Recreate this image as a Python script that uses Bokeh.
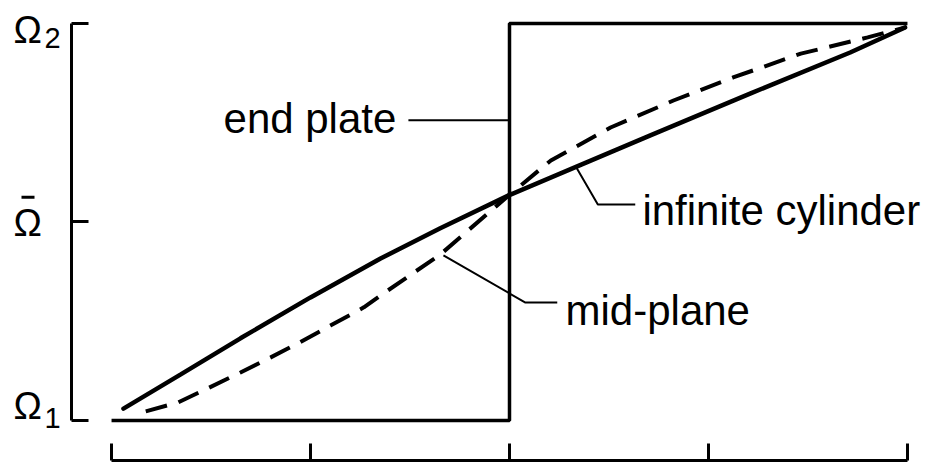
from bokeh.plotting import figure
from bokeh.layouts import row
from bokeh.models import Range1d, FixedTicker
from bokeh.core.properties import value
from bokeh.embed import file_html
from bokeh.resources import INLINE

# Normalised radial position (0 = inner cylinder, 1 = outer cylinder)
# and normalised angular velocity (0 = Omega_1, 1 = Omega_2).
end_plate_x = [0.0, 0.5, 0.5, 1.0]
end_plate_y = [0.0, 0.0, 1.0, 1.0]

cylinder_x = [0.015, 0.087, 0.162, 0.250, 0.338, 0.413, 0.499, 0.585, 0.677, 0.803, 0.928, 0.997]
cylinder_y = [0.030, 0.116, 0.207, 0.310, 0.408, 0.484, 0.567, 0.640, 0.718, 0.824, 0.927, 0.990]

midplane_x = [0.043, 0.083, 0.121, 0.162, 0.200, 0.237, 0.275, 0.317, 0.338, 0.413, 0.499,
              0.552, 0.627, 0.706, 0.781, 0.866, 0.950, 0.997]
midplane_y = [0.023, 0.045, 0.081, 0.121, 0.159, 0.197, 0.239, 0.285, 0.315, 0.418, 0.567,
              0.655, 0.738, 0.806, 0.864, 0.924, 0.965, 0.990]

x_ticks = [0.0, 0.25, 0.5, 0.75, 1.0]
y_ticks = [0.0, 0.5, 1.0]
y_tick_names = ["Ω", "Ω", "Ω"]
y_tick_subs = ["1", "", "2"]

INK = "#000000"
FONT = "Liberation Sans"
Y_RANGE = (-0.1008, 1.0579)
AXIS_PANEL = 11      # width Bokeh reserves for the label-less vertical axis
TEXT_LIFT = 0.0252   # raises text so its baseline sits where intended

# Main plot: frame spans the canvas right of the vertical axis
p = figure(width=860 + AXIS_PANEL, height=468,
           x_range=Range1d(-0.0503, 1.0302), y_range=Range1d(*Y_RANGE),
           min_border_left=AXIS_PANEL, min_border_right=0, min_border_top=0, min_border_bottom=8,
           toolbar_location=None, output_backend="svg")
p.outline_line_color = None
p.grid.visible = False
p.background_fill_color = "white"
p.border_fill_color = "white"

# Detached bracket-style axes
for ax, ticks in ((p.xaxis[0], x_ticks), (p.yaxis[0], y_ticks)):
    ax.bounds = (0, 1)
    ax.ticker = FixedTicker(ticks=ticks)
    ax.minor_tick_line_color = None
    ax.major_tick_in = 17
    ax.major_tick_out = 0
    ax.major_tick_line_width = 3
    ax.major_tick_line_color = INK
    ax.axis_line_width = 3
    ax.axis_line_color = INK
    ax.major_label_overrides = {t: "" for t in ticks}
    ax.major_label_standoff = 0

# Curves
p.line(end_plate_x, end_plate_y, line_color=INK, line_width=3.5)
p.line(cylinder_x, cylinder_y, line_color=INK, line_width=4.5, line_cap="round")
p.line(midplane_x, midplane_y, line_color=INK, line_width=4, line_dash="22 12")

# Leader lines to the curve annotations
p.line([0.373, 0.5], [0.756, 0.756], line_color=INK, line_width=2)
p.line([0.584, 0.611, 0.658], [0.637, 0.544, 0.544], line_color=INK, line_width=2)
p.line([0.417, 0.520, 0.560], [0.416, 0.297, 0.297], line_color=INK, line_width=2)

label_y = [0.7355, 0.5038, 0.2519]
p.text(x=[0.1407, 0.667, 0.5704], y=[v + TEXT_LIFT for v in label_y],
       text=["end plate", "infinite cylinder", "mid-plane"],
       text_font=value(FONT), text_font_size="42px", text_color=INK,
       text_align="left", text_baseline="alphabetic")

# Narrow strip holding the angular-velocity tick names, sharing the y scale
bottom_extra = 8 / 397.0
lab = figure(width=71 - AXIS_PANEL, height=468,
             x_range=Range1d(0, 71 - AXIS_PANEL), y_range=Range1d(Y_RANGE[0] - bottom_extra, Y_RANGE[1]),
             min_border=0, toolbar_location=None, output_backend="svg")
lab.xaxis.visible = False
lab.yaxis.visible = False
lab.grid.visible = False
lab.outline_line_color = None
lab.background_fill_color = "white"
lab.border_fill_color = "white"

name_off = {0.0: -0.0076, 0.5: -0.037, 1.0: -0.043}
lab.text(x=[13, 13, 13], y=[t + name_off[t] + TEXT_LIFT for t in y_ticks], text=y_tick_names,
         text_font=value(FONT), text_font_size="38px", text_color=INK,
         text_align="left", text_baseline="alphabetic")
sub_off = {0.0: -0.038, 0.5: -0.063, 1.0: -0.063}
lab.text(x=[44, 44, 44], y=[t + sub_off[t] + TEXT_LIFT for t in y_ticks], text=y_tick_subs,
         text_font=value(FONT), text_font_size="29px", text_color=INK,
         text_align="left", text_baseline="alphabetic")
# Bar over the mean-velocity symbol
lab.segment(x0=[21], y0=[y_ticks[1] + 0.054], x1=[34], y1=[y_ticks[1] + 0.054],
            line_color=INK, line_width=3)

layout = row(lab, p, spacing=0)
open("out.html", "w").write(file_html(layout, INLINE))
